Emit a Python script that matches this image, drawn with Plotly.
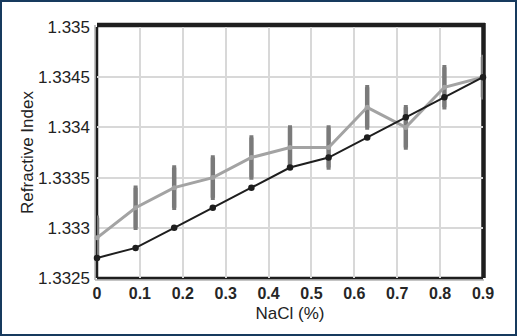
import plotly.graph_objects as go

nacl = [0, 0.09, 0.18, 0.27, 0.36, 0.45, 0.54, 0.63, 0.72, 0.81, 0.9]
ri_black = [1.3327, 1.3328, 1.3330, 1.3332, 1.3334, 1.3336, 1.3337, 1.3339, 1.3341, 1.3343, 1.3345]
ri_grey = [1.3329, 1.3332, 1.3334, 1.3335, 1.3337, 1.3338, 1.3338, 1.3342, 1.3340, 1.3344, 1.3345]
ri_grey_err = [0.0002] * 11
x_ticks = [0, 0.1, 0.2, 0.3, 0.4, 0.5, 0.6, 0.7, 0.8, 0.9]
x_ticklabels = ["0", "0.1", "0.2", "0.3", "0.4", "0.5", "0.6", "0.7", "0.8", "0.9"]
y_ticks = [1.3325, 1.333, 1.3335, 1.334, 1.3345, 1.335]
y_ticklabels = ["1.3325", "1.333", "1.3335", "1.334", "1.3345", "1.335"]

W, H = 517, 336
L, R, T, B = 97, 34, 27, 58
pw, ph = W - L - R, H - T - B

fig = go.Figure()
fig.add_trace(go.Scatter(
    x=nacl, y=ri_grey, mode="markers", marker=dict(size=1, color="rgba(0,0,0,0)"),
    error_y=dict(type="data", array=ri_grey_err, color="#7a7a7a", thickness=4.5, width=2),
    showlegend=False, cliponaxis=False))
fig.add_trace(go.Scatter(
    x=nacl, y=ri_grey, mode="lines+markers",
    line=dict(color="#a3a3a3", width=3), marker=dict(size=5, color="#a3a3a3"),
    showlegend=False, cliponaxis=False))
fig.add_trace(go.Scatter(
    x=nacl, y=ri_black, mode="lines+markers",
    line=dict(color="#1e1e1e", width=2), marker=dict(size=6.5, color="#1e1e1e"),
    showlegend=False, cliponaxis=False))

def px(xp):
    return (xp - L) / pw

def py(yp):
    return 1 - (yp - T) / ph

lay = "between"
shapes = [
    dict(type="rect", xref="paper", yref="paper", x0=px(1), x1=px(W - 1), y0=py(H - 1), y1=py(1),
         line=dict(color="#173a5e", width=2), layer="below"),
    dict(type="line", xref="paper", yref="paper", x0=px(95), x1=px(95), y0=py(280), y1=py(T - 2),
         line=dict(color="#b0b0b0", width=1.5), layer=lay),
    dict(type="line", xref="paper", yref="paper", x0=px(95), x1=px(484), y0=py(280), y1=py(280),
         line=dict(color="#b0b0b0", width=1.5), layer=lay),
    dict(type="line", xref="paper", yref="paper", x0=0, x1=0, y0=0, y1=1,
         line=dict(color="#1e1e1e", width=2.5), layer=lay),
    dict(type="line", xref="paper", yref="paper", x0=0, x1=1, y0=0, y1=0,
         line=dict(color="#1e1e1e", width=2.5), layer=lay),
    dict(type="line", xref="paper", yref="paper", x0=0, x1=px(W - R + 2), y0=py(T - 2), y1=py(T - 2),
         line=dict(color="#1e1e1e", width=4.5), layer=lay),
    dict(type="line", xref="paper", yref="paper", x0=px(W - R + 0.5), x1=px(W - R + 0.5), y0=0, y1=py(T - 4),
         line=dict(color="#1e1e1e", width=4.5), layer=lay),
]

fam = "Liberation Sans, Arial, sans-serif"
font = dict(family=fam, size=17, color="#222222")

fig.update_layout(
    width=W, height=H,
    margin=dict(l=L, r=R, t=T, b=B),
    paper_bgcolor="white", plot_bgcolor="white",
    font=font,
    shapes=shapes,
    xaxis=dict(range=[0, 0.9], tickvals=x_ticks, ticktext=["<b>%s</b>" % t for t in x_ticklabels],
               tickfont=dict(family=fam, size=16, color="#262626"),
               showgrid=True, gridcolor="#d8d8d8", gridwidth=2, zeroline=False, showline=False,
               ticks="", ticklabelstandoff=4,
               title=dict(text="NaCl (%)", standoff=6, font=font)),
    yaxis=dict(range=[1.3325, 1.335], tickvals=y_ticks, ticktext=y_ticklabels,
               tickfont=dict(family=fam, size=17, color="#222222"),
               showgrid=True, gridcolor="#d8d8d8", gridwidth=2, zeroline=False, showline=False,
               ticks="", ticklabelstandoff=6,
               title=dict(text="Refractive Index", standoff=0, font=font)),
)

fig.write_html("out.html", config={"displayModeBar": False},
               post_script="document.body.style.margin='0px';document.body.style.padding='0px';")
